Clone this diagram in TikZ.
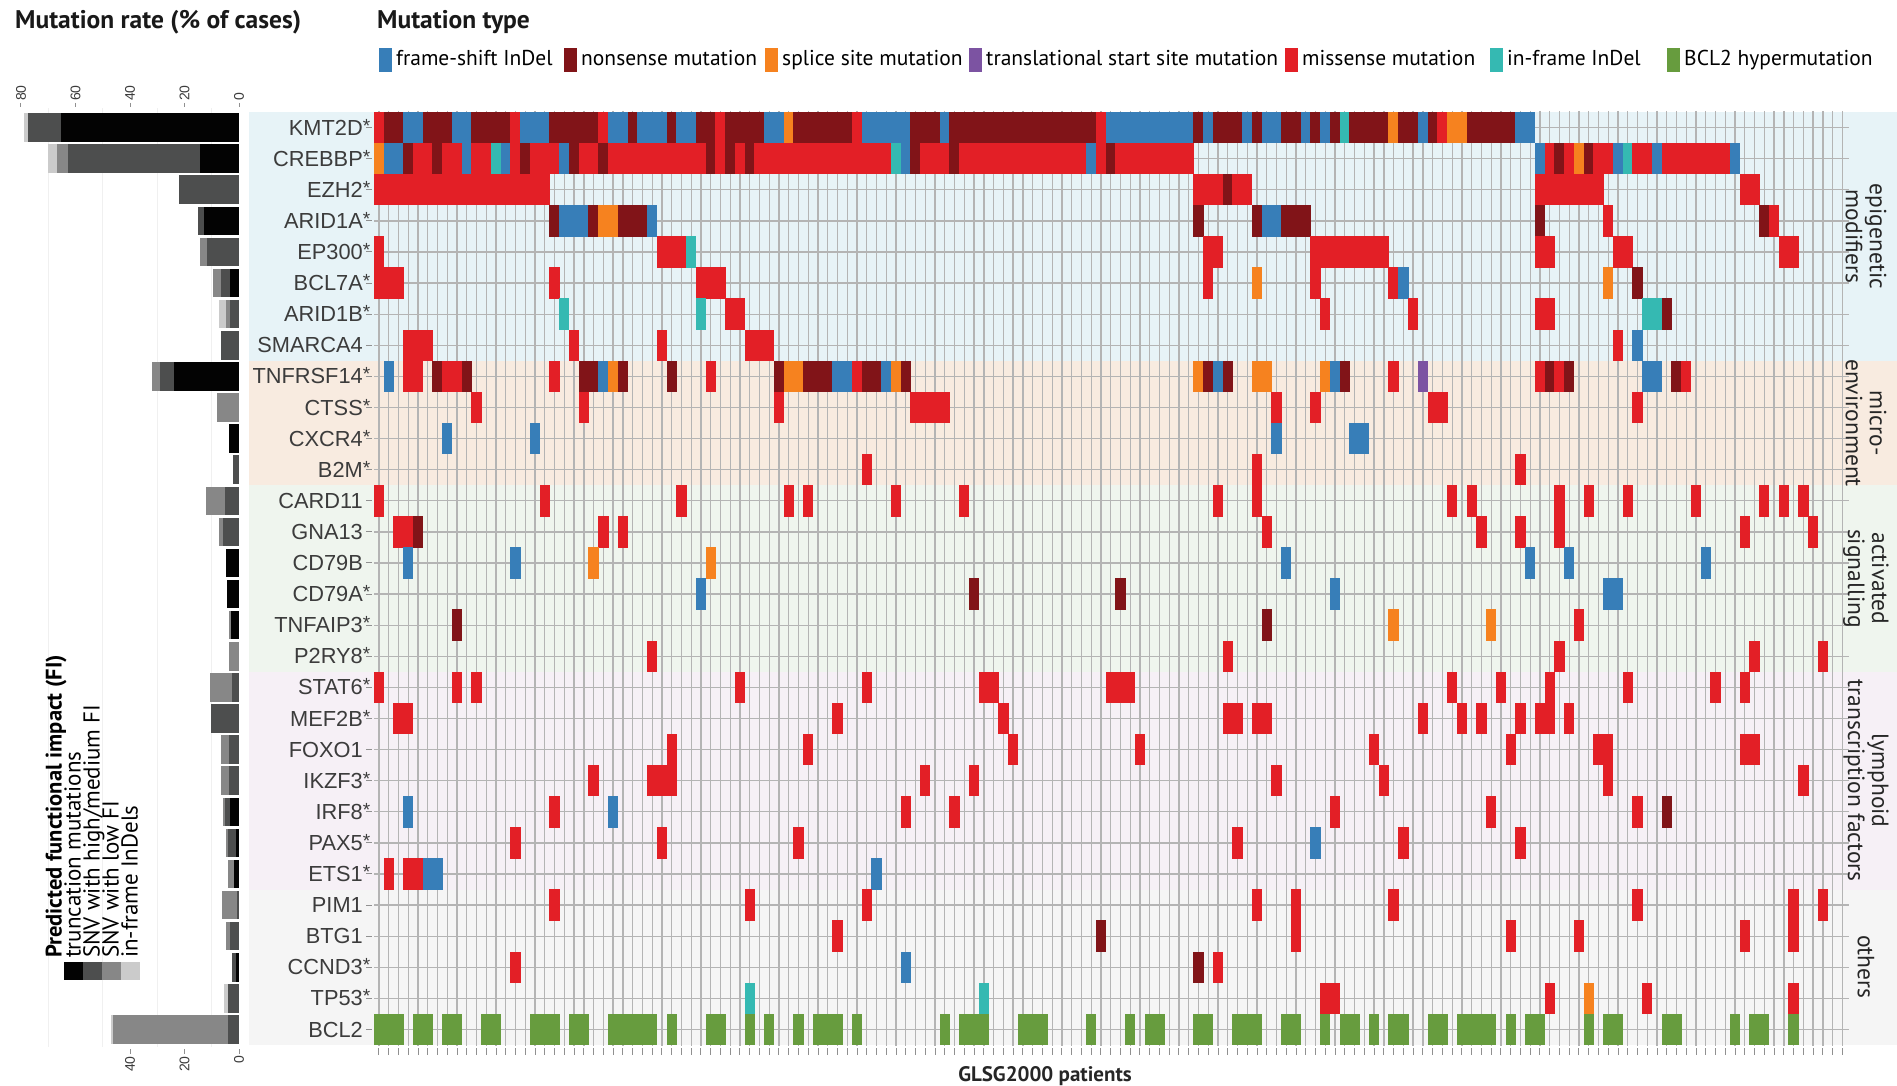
\documentclass[tikz,border=0pt]{standalone}
\usepackage{fontspec}
\setmainfont{PT Sans}
\newfontfamily\arialf{Liberation Sans}
\definecolor{fs}{HTML}{377EB8}
\definecolor{ns}{HTML}{811418}
\definecolor{sp}{HTML}{F6821F}
\definecolor{ts}{HTML}{7C53A2}
\definecolor{ms}{HTML}{E31F26}
\definecolor{ifd}{HTML}{35B9B2}
\definecolor{bh}{HTML}{679C3E}
\definecolor{epi}{HTML}{E7F3F7}
\definecolor{mic}{HTML}{F8EBE0}
\definecolor{act}{HTML}{EFF5EE}
\definecolor{lym}{HTML}{F6F0F6}
\definecolor{oth}{HTML}{F5F5F5}
\definecolor{bk}{HTML}{030303}
\definecolor{dg}{HTML}{4D4E4E}
\definecolor{mg}{HTML}{878787}
\definecolor{lg}{HTML}{CBCBCB}
\definecolor{gridc}{HTML}{B4B4B4}
\definecolor{labc}{HTML}{3C3C3C}
\newcommand\mcell[4]{\fill[fill=#4] ({374.1+9.756*#2-0.25},{112+31.1*#1-0.2}) rectangle ({374.1+9.756*(#3+1)+0.25},{112+31.1*(#1+1)+0.2});}
\newcommand\fibar[4]{\fill[fill=#4] (#2,{112+31.1*#1+1.3}) rectangle (#3,{112+31.1*(#1+1)-1.3});}
\tikzset{
  gridl/.style={draw=gridc,line width=1.3pt},
  tickl/.style={draw=gridc!80!black,line width=1pt},
  genel/.style={font=\arialf\fontsize{21.8}{24}\selectfont,text=labc,inner sep=0pt},
  grpl/.style={font=\fontsize{23.5}{24}\selectfont,text=black!85,align=center,inner sep=0pt,rotate=-90},
  legt/.style={font=\fontsize{21.5}{26}\selectfont,text=black,inner sep=0pt,anchor=base west},
  ttl/.style={font=\bfseries\fontsize{25.5}{28}\selectfont,text=black!90,inner sep=0pt,anchor=base west},
  axl/.style={font=\arialf\fontsize{14}{16}\selectfont,text=labc,inner sep=0pt,rotate=90},
  fil/.style={font=\fontsize{23}{24}\selectfont,text=black,inner sep=0pt,rotate=90,anchor=base west}
}
\begin{document}
\begin{tikzpicture}[x=1pt,y=-1pt]
\useasboundingbox (0,0) rectangle (1897,1086);
% group bands
\fill[epi] (249,112) rectangle (1897,360.8);
\fill[mic] (249,360.8) rectangle (1897,485.2);
\fill[act] (249,485.2) rectangle (1897,671.8);
\fill[lym] (249,671.8) rectangle (1897,889.5);
\fill[oth] (249,889.5) rectangle (1897,1045);
% grid
\foreach \r in {0,...,29} \draw[gridl] (374,{112+31.1*(\r+0.5)}) -- (1849,{112+31.1*(\r+0.5)});
\foreach \k in {0,...,150} \draw[gridl] ({378.98+9.756*\k},111) -- ({378.98+9.756*\k},1046);
\foreach \k in {0,...,150} \draw[tickl] ({378.98+9.756*\k},1048) -- ({378.98+9.756*\k},1055);
% row 0 KMT2D
\foreach \ua/\ub/\uk in {0/0/ms,1/2/ns,3/4/fs,5/7/ns,8/9/fs,10/13/ns,14/14/ms,15/17/fs,18/22/ns,23/23/ms,24/25/fs,26/26/ns,27/29/fs,30/30/ns,31/32/fs,33/34/ns,35/35/ms,36/39/ns,40/41/fs,42/42/sp,43/48/ns,49/49/ms,50/54/fs,55/57/ns,58/58/fs,59/73/ns,74/74/ms,75/83/fs,84/84/ns,85/85/fs,86/88/ns,89/89/fs,90/90/ns,91/92/fs,93/94/ns,95/95/fs,96/96/ns,97/97/fs,98/98/ns,99/99/ifd,100/103/ns,104/104/sp,105/106/ns,107/107/fs,108/108/ns,109/109/ms,110/111/sp,112/116/ns,117/118/fs} {\mcell{0}{\ua}{\ub}{\uk}}
% row 1 CREBBP
\foreach \ua/\ub/\uk in {0/0/sp,1/2/fs,3/3/ns,4/5/ms,6/6/ns,7/8/ms,9/9/fs,10/11/ms,12/12/ifd,13/13/fs,14/14/ms,15/15/ns,16/18/ms,19/19/fs,20/20/ns,21/22/ms,23/23/ns,24/33/ms,34/34/ns,35/35/ms,36/36/ns,37/37/ms,38/38/ns,39/52/ms,53/53/ifd,54/54/fs,55/55/ns,56/58/ms,59/59/ns,60/72/ms,73/73/fs,74/74/ms,75/75/ns,76/83/ms,119/119/fs,120/120/ms,121/121/ns,122/122/ms,123/123/sp,124/124/ns,125/126/ms,127/127/fs,128/128/ifd,129/130/ms,131/131/fs,132/138/ms,139/139/fs} {\mcell{1}{\ua}{\ub}{\uk}}
% row 2 EZH2
\foreach \ua/\ub/\uk in {0/17/ms,84/86/ms,87/87/ns,88/89/ms,119/125/ms,140/141/ms} {\mcell{2}{\ua}{\ub}{\uk}}
% row 3 ARID1A
\foreach \ua/\ub/\uk in {18/18/ns,19/21/fs,22/22/ns,23/24/sp,25/27/ns,28/28/fs,84/84/ns,90/90/ns,91/92/fs,93/95/ns,119/119/ns,126/126/ms,142/142/ns,143/143/ms} {\mcell{3}{\ua}{\ub}{\uk}}
% row 4 EP300
\foreach \ua/\ub/\uk in {0/0/ms,29/31/ms,32/32/ifd,85/86/ms,96/103/ms,119/120/ms,127/128/ms,144/145/ms} {\mcell{4}{\ua}{\ub}{\uk}}
% row 5 BCL7A
\foreach \ua/\ub/\uk in {0/2/ms,18/18/ms,33/35/ms,85/85/ms,90/90/sp,96/96/ms,104/104/ms,105/105/fs,126/126/sp,129/129/ns} {\mcell{5}{\ua}{\ub}{\uk}}
% row 6 ARID1B
\foreach \ua/\ub/\uk in {19/19/ifd,33/33/ifd,36/37/ms,97/97/ms,106/106/ms,119/120/ms,130/131/ifd,132/132/ns} {\mcell{6}{\ua}{\ub}{\uk}}
% row 7 SMARCA4
\foreach \ua/\ub/\uk in {3/5/ms,20/20/ms,29/29/ms,38/40/ms,127/127/ms,129/129/fs} {\mcell{7}{\ua}{\ub}{\uk}}
% row 8 TNFRSF14
\foreach \ua/\ub/\uk in {1/1/fs,3/4/ms,6/6/ns,7/8/ms,9/9/ns,18/18/ms,21/22/ns,23/23/fs,24/24/sp,25/25/ns,30/30/ns,34/34/ms,41/41/ns,42/43/sp,44/46/ns,47/48/fs,49/49/ms,50/51/ns,52/52/fs,53/53/sp,54/54/ns,84/84/sp,85/85/ns,86/86/fs,87/87/ns,90/91/sp,97/97/sp,98/98/fs,99/99/ns,104/104/ms,107/107/ts,119/119/ms,120/120/ns,121/121/ms,122/122/ns,130/131/fs,133/133/ns,134/134/ms} {\mcell{8}{\ua}{\ub}{\uk}}
% row 9 CTSS
\foreach \ua/\ub in {10/10,21/21,41/41,55/58,92/92,96/96,108/109,129/129} {\mcell{9}{\ua}{\ub}{ms}}
% row 10 CXCR4
\foreach \ua/\ub in {7/7,16/16,92/92,100/101} {\mcell{10}{\ua}{\ub}{fs}}
% row 11 B2M
\foreach \ua in {50,90,117} {\mcell{11}{\ua}{\ua}{ms}}
% row 12 CARD11
\foreach \ua in {0,17,31,42,44,53,60,86,90,110,112,121,124,128,135,142,144,146} {\mcell{12}{\ua}{\ua}{ms}}
% row 13 GNA13
\foreach \ua/\ub/\uk in {2/3/ms,4/4/ns,23/23/ms,25/25/ms,91/91/ms,113/113/ms,117/117/ms,121/121/ms,140/140/ms,147/147/ms} {\mcell{13}{\ua}{\ub}{\uk}}
% row 14 CD79B
\foreach \ua/\uk in {3/fs,14/fs,22/sp,34/sp,93/fs,118/fs,122/fs,136/fs} {\mcell{14}{\ua}{\ua}{\uk}}
% row 15 CD79A
\foreach \ua/\ub/\uk in {33/33/fs,61/61/ns,76/76/ns,98/98/fs,126/127/fs} {\mcell{15}{\ua}{\ub}{\uk}}
% row 16 TNFAIP3
\foreach \ua/\uk in {8/ns,91/ns,104/sp,114/sp,123/ms} {\mcell{16}{\ua}{\ua}{\uk}}
% row 17 P2RY8
\foreach \ua in {28,87,121,141,148} {\mcell{17}{\ua}{\ua}{ms}}
% row 18 STAT6
\foreach \ua/\ub in {0/0,8/8,10/10,37/37,50/50,62/63,75/77,110/110,115/115,120/120,128/128,137/137,140/140} {\mcell{18}{\ua}{\ub}{ms}}
% row 19 MEF2B
\foreach \ua/\ub in {2/3,47/47,64/64,87/88,90/91,107/107,111/111,113/113,117/117,119/120,122/122} {\mcell{19}{\ua}{\ub}{ms}}
% row 20 FOXO1
\foreach \ua/\ub in {30/30,44/44,65/65,78/78,102/102,116/116,125/126,140/141} {\mcell{20}{\ua}{\ub}{ms}}
% row 21 IKZF3
\foreach \ua/\ub in {22/22,28/30,56/56,61/61,92/92,103/103,126/126,146/146} {\mcell{21}{\ua}{\ub}{ms}}
% row 22 IRF8
\foreach \ua/\uk in {3/fs,18/ms,24/fs,54/ms,59/ms,98/ms,114/ms,129/ms,132/ns} {\mcell{22}{\ua}{\ua}{\uk}}
% row 23 PAX5
\foreach \ua/\uk in {14/ms,29/ms,43/ms,88/ms,96/fs,105/ms,117/ms} {\mcell{23}{\ua}{\ua}{\uk}}
% row 24 ETS1
\foreach \ua/\ub/\uk in {1/1/ms,3/4/ms,5/6/fs,51/51/fs} {\mcell{24}{\ua}{\ub}{\uk}}
% row 25 PIM1
\foreach \ua in {18,38,50,90,94,104,129,145,148} {\mcell{25}{\ua}{\ua}{ms}}
% row 26 BTG1
\foreach \ua/\uk in {47/ms,74/ns,94/ms,116/ms,123/ms,140/ms,145/ms} {\mcell{26}{\ua}{\ua}{\uk}}
% row 27 CCND3
\foreach \ua/\uk in {14/ms,54/fs,84/ns,86/ms} {\mcell{27}{\ua}{\ua}{\uk}}
% row 28 TP53
\foreach \ua/\ub/\uk in {38/38/ifd,62/62/ifd,97/98/ms,120/120/ms,124/124/sp,130/130/ms,145/145/ms} {\mcell{28}{\ua}{\ub}{\uk}}
% row 29 BCL2
\foreach \ua/\ub in {0/2,4/5,7/8,11/12,16/18,20/21,24/28,30/30,34/35,38/38,40/40,43/43,45/47,49/49,58/58,60/62,66/68,73/73,77/77,79/80,84/85,88/90,93/94,97/97,99/100,102/102,104/105,108/109,111/114,116/116,118/119,124/124,126/127,132/133,139/139,141/142,145/145} {\mcell{29}{\ua}{\ub}{bh}}
% gene labels
\foreach \g/\s [count=\i from 0] in {KMT2D/1,CREBBP/1,EZH2/1,ARID1A/1,EP300/1,BCL7A/1,ARID1B/1,SMARCA4/0,TNFRSF14/1,CTSS/1,CXCR4/1,B2M/1,CARD11/0,GNA13/0,CD79B/0,CD79A/1,TNFAIP3/1,P2RY8/1,STAT6/1,MEF2B/1,FOXO1/0,IKZF3/1,IRF8/1,PAX5/1,ETS1/1,PIM1/0,BTG1/0,CCND3/1,TP53/1,BCL2/0} {
  \node[genel,anchor=base east] (g\i) at (363,{112+31.1*(\i+0.5)+7.6}) {\g\ifnum\s=1\rlap{\raisebox{3pt}{\fontsize{19}{19}\selectfont*}}\fi};
  \draw[tickl] (366,{112+31.1*(\i+0.5)}) -- (372,{112+31.1*(\i+0.5)});
}
% group labels
\node[grpl] (ge) at (1866,236.4) {epigenetic\\modifiers};
\node[grpl] (gm) at (1866,423) {micro-\\environment};
\node[grpl] (ga) at (1866,578.5) {activated\\signalling};
\node[grpl] (gl) at (1866,780.6) {lymphoid\\transcription factors};
\node[grpl] (go) at (1866,967) {others};
% bar chart grid
\foreach \v in {10,30,50,70} \draw[black!6,line width=1pt] ({239-2.725*\v},108) -- ({239-2.725*\v},1047);
% bars
\fibar{0}{24}{28}{lg}\fibar{0}{28}{61}{dg}\fibar{0}{61}{239}{bk}
\fibar{1}{48}{57}{lg}\fibar{1}{57}{68}{mg}\fibar{1}{68}{200}{dg}\fibar{1}{200}{239}{bk}
\fibar{2}{179}{239}{dg}
\fibar{3}{198}{204}{dg}\fibar{3}{204}{239}{bk}
\fibar{4}{200}{207}{mg}\fibar{4}{207}{239}{dg}
\fibar{5}{213}{221}{mg}\fibar{5}{221}{230}{dg}\fibar{5}{230}{239}{bk}
\fibar{6}{219}{226}{lg}\fibar{6}{226}{230}{mg}\fibar{6}{230}{239}{dg}
\fibar{7}{221}{239}{dg}
\fibar{8}{152}{160}{mg}\fibar{8}{160}{174}{dg}\fibar{8}{174}{239}{bk}
\fibar{9}{217}{239}{mg}
\fibar{10}{229}{239}{bk}
\fibar{11}{233}{239}{dg}
\fibar{12}{206}{225}{mg}\fibar{12}{225}{239}{dg}
\fibar{13}{219}{223}{mg}\fibar{13}{223}{239}{dg}
\fibar{14}{226}{239}{bk}
\fibar{15}{227}{239}{bk}
\fibar{16}{229}{230.5}{mg}\fibar{16}{230.5}{239}{bk}
\fibar{17}{229}{239}{mg}
\fibar{18}{210}{232}{mg}\fibar{18}{232}{239}{dg}
\fibar{19}{211}{239}{dg}
\fibar{20}{221}{229}{mg}\fibar{20}{229}{239}{dg}
\fibar{21}{221}{229}{mg}\fibar{21}{229}{239}{dg}
\fibar{22}{223}{225}{mg}\fibar{22}{225}{230}{dg}\fibar{22}{230}{239}{bk}
\fibar{23}{226}{228}{mg}\fibar{23}{228}{236}{dg}\fibar{23}{236}{239}{bk}
\fibar{24}{228}{234}{mg}\fibar{24}{234}{239}{bk}
\fibar{25}{222}{237}{mg}\fibar{25}{237}{239}{dg}
\fibar{26}{226}{230}{mg}\fibar{26}{230}{239}{dg}
\fibar{27}{232}{236}{dg}\fibar{27}{236}{239}{bk}
\fibar{28}{224}{228}{lg}\fibar{28}{228}{239}{dg}
\fibar{29}{111}{113}{lg}\fibar{29}{113}{228}{mg}\fibar{29}{228}{239}{dg}
% bar chart axes
\foreach \v in {80,60,40,20,0} {
  \draw[tickl] ({239-2.725*\v},103) -- ({239-2.725*\v},107.5);
  \node[axl,anchor=west] (ta\v) at ({239-2.725*\v},101) {\v};
}
\foreach \v in {40,20,0} {
  \draw[tickl] ({239-2.725*\v},1049) -- ({239-2.725*\v},1053.5);
  \node[axl,anchor=east] (ba\v) at ({239-2.725*\v},1056) {\v};
}
% FI legend
\fill[bk] (64,962) rectangle (83,980);
\fill[dg] (83,962) rectangle (102,980);
\fill[mg] (102,962) rectangle (121,980);
\fill[lg] (121,962) rectangle (140,980);
\node[fil,font=\bfseries\fontsize{22.5}{24}\selectfont] (fit) at (61.5,958) {Predicted functional impact (FI)};
\node[fil] (fi1) at (80.5,958) {truncation mutations};
\node[fil] (fi2) at (99.5,958) {SNV with high/medium FI};
\node[fil] (fi3) at (118.5,958) {SNV with low FI};
\node[fil] (fi4) at (137.5,958) {in-frame InDels};
% titles
\node[ttl] (t1) at (15,29) {Mutation rate (\% of cases)};
\node[ttl] (t2) at (377,29) {Mutation type};
% mutation type legend
\fill[fs] (379,48) rectangle (392,72); \node[legt] (l1) at (396,66) {frame-shift InDel};
\fill[ns] (564,48) rectangle (577,72); \node[legt] (l2) at (581,66) {nonsense mutation};
\fill[sp] (765,48) rectangle (778,72); \node[legt] (l3) at (782,66) {splice site mutation};
\fill[ts] (969,48) rectangle (982,72); \node[legt] (l4) at (986,66) {translational start site mutation};
\fill[ms] (1285,48) rectangle (1298,72); \node[legt] (l5) at (1302,66) {missense mutation};
\fill[ifd] (1490,48) rectangle (1503,72); \node[legt] (l6) at (1507,66) {in-frame InDel};
\fill[bh] (1667,48) rectangle (1680,72); \node[legt] (l7) at (1684,66) {BCL2 hypermutation};
% x-axis title
\node[font=\bfseries\fontsize{21}{24}\selectfont,text=black!85,inner sep=0pt,anchor=base] (xt) at (1045,1081) {GLSG2000 patients};
\end{tikzpicture}
\end{document}
